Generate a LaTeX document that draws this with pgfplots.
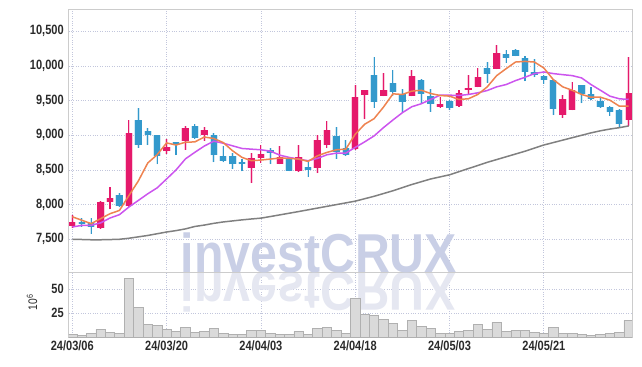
\documentclass[border=0pt]{standalone}
\usepackage{pgfplots}
\pgfplotsset{compat=1.18}
\usepackage{pgfplotstable}
\usetikzlibrary{calc}
\usepackage{fontspec}
\setmainfont{Liberation Sans}
\newfontfamily\tickfont[FakeStretch=0.82]{Liberation Sans}
\newfontfamily\wmfont{Liberation Sans}
\definecolor{upc}{HTML}{E5196B}
\definecolor{dnc}{HTML}{3399CC}
\definecolor{ma5}{HTML}{EE8350}
\definecolor{ma10}{HTML}{CC55EE}
\definecolor{ma60}{HTML}{808080}
\definecolor{volf}{HTML}{DADADA}
\definecolor{vold}{HTML}{B0B0B0}
\definecolor{gridc}{HTML}{C2C6DC}
\definecolor{axc}{HTML}{CCCCCC}
\definecolor{tk}{HTML}{2A2A2A}
\definecolor{wm}{HTML}{C9CFE6}
\definecolor{wmr}{HTML}{E5E7F1}

\pgfplotstableread{
i o h l c
0 7690 7855 7670 7755
3 7660 8055 7650 8035
4 8040 8250 7930 8100
6 7980 9220 7960 9030
10 8770 8950 8730 8830
12 8920 9135 8790 9100
14 9000 9120 8920 9070
19 8530 8745 8310 8670
20 8670 8860 8600 8730
22 8590 8850 8580 8680
24 8480 8860 8470 8680
26 8530 9000 8455 8930
27 8860 9200 8815 9070
30 8800 9720 8790 9550
31 9580 9660 9230 9650
33 9570 9900 9560 9650
36 9570 9940 9560 9860
39 9410 9550 9400 9445
41 9420 9650 9410 9610
42 9650 9875 9590 9680
43 9700 9970 9690 9840
45 9960 10305 9950 10180
52 9290 9575 9255 9520
53 9370 9770 9360 9660
59 9220 10130 9135 9610
}\uptab

\pgfplotstableread{
i o h l c
1 7750 7800 7680 7725
2 7730 7800 7580 7680
5 8140 8170 7960 7980
7 9220 9400 8820 8860
8 9060 9100 8860 9000
9 9000 9010 8580 8700
11 8900 8905 8715 8860
13 9130 9160 8950 8960
15 9000 9040 8610 8710
16 8700 8850 8610 8630
17 8700 8740 8515 8580
18 8620 8665 8480 8580
21 8785 8810 8585 8750
23 8670 8680 8480 8490
25 8540 8620 8395 8500
28 8990 9125 8665 8760
29 8815 8935 8700 8710
32 9870 10130 9400 9480
34 9760 9940 9565 9630
35 9590 9670 9340 9480
37 9800 9810 9470 9600
38 9560 9670 9340 9450
40 9500 9510 9360 9390
44 9970 10060 9755 9890
46 10175 10235 10045 10120
47 10235 10240 10140 10150
48 10120 10150 9780 9920
49 9915 10100 9835 9865
50 9860 9870 9745 9795
51 9800 9810 9290 9380
54 9720 9730 9460 9590
55 9590 9700 9505 9530
56 9500 9540 9400 9410
57 9410 9420 9280 9330
58 9370 9380 9125 9160
}\dntab

\pgfplotstableread{
i m5 m10 m60 v
0 7825 7678 7500 3.6
1 7775 7700 7497 2.2
2 7726 7702 7493 4.3
3 7797 7736 7493 8.4
4 7869 7807 7496 5.3
5 7916 7855 7500 4.3
6 8130 7965 7515 61
7 8340 8060 7535 31
8 8600 8156 7555 13.6
9 8720 8242 7580 12.5
10 8890 8370 7605 8.4
11 8860 8500 7625 6.4
12 8900 8660 7650 10.5
13 8905 8755 7685 5.3
14 8975 8845 7705 6.4
15 8954 8915 7730 9
16 8896 8886 7750 4.3
17 8776 8848 7765 3.3
18 8681 8810 7780 3.3
19 8633 8800 7793 7.1
20 8643 8791 7805 7.1
21 8657 8772 7828 4.3
22 8672 8714 7852 3.3
23 8667 8681 7876 3.3
24 8657 8657 7900 6
25 8624 8633 7925 3.6
26 8705 8667 7950 9.4
27 8753 8719 7975 10.5
28 8791 8743 8000 7.4
29 8800 8743 8025 4.3
30 9015 8825 8050 40.4
31 9159 8905 8085 24.2
32 9240 8991 8120 22.8
33 9407 9111 8160 18.7
34 9598 9221 8200 14.6
35 9589 9326 8245 7.4
36 9637 9412 8290 17.7
37 9650 9455 8330 11.8
38 9603 9517 8370 9.4
39 9574 9579 8400 4.3
40 9565 9579 8430 4.3
41 9517 9574 8475 6.4
42 9527 9589 8520 7.4
43 9589 9613 8565 13.6
44 9699 9646 8610 8.4
45 9861 9699 8650 15.7
46 9961 9732 8690 6.4
47 10057 9789 8730 7.4
48 10066 9837 8770 7.4
49 10057 9890 8815 5.3
50 9971 9914 8860 4.3
51 9804 9890 8895 10.5
52 9699 9875 8930 4.3
53 9650 9861 8965 4.3
54 9589 9828 9000 3.3
55 9550 9732 9035 2.2
56 9550 9650 9065 3.3
57 9507 9565 9090 4.3
58 9421 9527 9110 5.3
59 9421 9517 9135 17.7
}\matab

\begin{document}
\begin{tikzpicture}[x=1bp,y=1bp]

\pgfplotsset{
  base/.style={
    scale only axis, width=563.3bp, anchor=south west,
    xmin=-0.38, xmax=59.35,
    xtick={0,10,...,50},
    scaled ticks=false,
    grid=major, grid style={dotted, gridc, line width=0.8bp},
    axis line style={draw=axc, line width=0.8bp},
    major tick length=0pt,
    tick label style={font=\tickfont\bfseries\fontsize{13.5}{14}\selectfont, text=tk},
    yticklabel style={xshift=-1.5bp},
    /pgf/number format/assume math mode=true,
    /pgf/number format/1000 sep={,},
  },
  cndl/.style={draw=none, no markers, forget plot, error bars/.cd, y dir=plus, y explicit, error mark=none}
}

% volume axis first (bottom)
\begin{axis}[base, name=vol, at={(68.7,28.5)}, height=65.5bp,
  ymin=0, ymax=67.5, ytick={25,50},
  xticklabels={24/03/06,24/03/20,24/04/03,24/04/18,24/05/03,24/05/21},
  ylabel={10\textsuperscript{6}},
  ylabel style={font=\tickfont\fontsize{12.5}{13}\selectfont, text=tk, at={(axis description cs:-0.065,0.54)}, anchor=center},
  execute at begin axis={%
    \node[anchor=base, text=wmr, font=\wmfont\bfseries\fontsize{55}{55}\selectfont, xscale=0.88, yscale=-1, inner sep=0] at (rel axis cs:0.4443,1) {investCRUX};%
  }]
\addplot[ybar, bar width=1, fill=volf, draw=vold, line width=0.6bp] table[x=i, y=v] {\matab};
\end{axis}

\begin{axis}[base, name=price, at={(vol.north west)}, height=263bp,
  ymin=7028, ymax=10822, ytick={7500,8000,...,10500},
  xticklabels={},
  execute at begin axis={%
    \node[anchor=base, text=wm, font=\wmfont\bfseries\fontsize{55}{55}\selectfont, xscale=0.88, inner sep=0] at (rel axis cs:0.4443,0) {investCRUX};%
  }]
% halos
\addplot[cndl, error bar style={draw=upc!22, line width=2.6bp}]
  table[x=i, y=l, y error expr=\thisrow{h}-\thisrow{l}] {\uptab};
\addplot[cndl, error bar style={draw=dnc!22, line width=2.6bp}]
  table[x=i, y=l, y error expr=\thisrow{h}-\thisrow{l}] {\dntab};
\addplot[cndl, error bar style={draw=upc!22, line width=8bp}]
  table[x=i, y=o, y error expr=\thisrow{c}-\thisrow{o}] {\uptab};
\addplot[cndl, error bar style={draw=dnc!22, line width=8bp}]
  table[x=i, y=c, y error expr=\thisrow{o}-\thisrow{c}] {\dntab};
% wicks
\addplot[cndl, error bar style={draw=upc, line width=1.1bp}]
  table[x=i, y=l, y error expr=\thisrow{h}-\thisrow{l}] {\uptab};
\addplot[cndl, error bar style={draw=dnc, line width=1.1bp}]
  table[x=i, y=l, y error expr=\thisrow{h}-\thisrow{l}] {\dntab};
% bodies
\addplot[cndl, error bar style={draw=upc, line width=6.4bp}]
  table[x=i, y=o, y error expr=\thisrow{c}-\thisrow{o}] {\uptab};
\addplot[cndl, error bar style={draw=dnc, line width=6.4bp}]
  table[x=i, y=c, y error expr=\thisrow{o}-\thisrow{c}] {\dntab};
% moving averages
\addplot[ma60, line width=1.5bp, mark=none] table[x=i, y=m60] {\matab};
\addplot[ma10, line width=1.5bp, mark=none] table[x=i, y=m10] {\matab};
\addplot[ma5, line width=1.5bp, mark=none] table[x=i, y=m5] {\matab};
\end{axis}

\pgfresetboundingbox
\path[use as bounding box] ($(vol.south west)+(-68.7,-28.5)$) rectangle ($(vol.south west)+(573.3,337.5)$);
\end{tikzpicture}
\end{document}
